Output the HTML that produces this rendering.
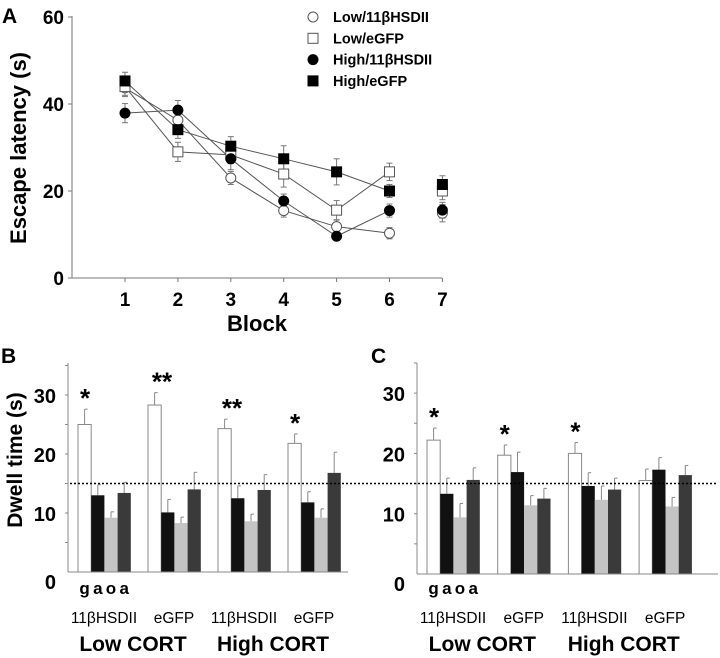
<!DOCTYPE html>
<html><head><meta charset="utf-8"><style>
html,body{margin:0;padding:0;background:#fff;}
svg{display:block;font-family:"Liberation Sans",Arial,sans-serif;}
</style></head><body>
<svg id="fig" width="720" height="658" viewBox="0 0 720 658" xmlns="http://www.w3.org/2000/svg"></svg>
<script>
// ---- Panel A data ----
const blocks = [1,2,3,4,5,6,7];
const seriesNames = ["Low/11βHSDII","Low/eGFP","High/11βHSDII","High/eGFP"];
const lowHsd = [43.7,36.3,23.0,15.5,11.8,10.3,14.9];
const lowHsdErr = [2,2,1.5,1.5,1.5,1.3,2];
const lowEgfp = [44.0,29.0,28.3,23.9,15.6,24.4,20.0];
const lowEgfpErr = [2,2.2,2,3,2.2,2,2];
const highHsd = [37.9,38.6,27.4,17.7,9.6,15.5,15.6];
const highHsdErr = [2.2,2.2,2.5,1.6,0.8,1.5,1.8];
const highEgfp = [45.3,34.1,30.3,27.4,24.4,20.0,21.5];
const highEgfpErr = [2,2,2.2,3,3,1.5,2];
const aTicks = [0,20,40,60];
// ---- Panel B / C data ----
const groupLabels = ["11βHSDII","eGFP","11βHSDII","eGFP"];
const bT = [25.0,28.3,24.3,21.8];
const bA = [13.0,10.1,12.5,11.8];
const bO = [9.2,8.3,8.6,9.2];
const bAd = [13.4,14.0,13.9,16.8];
const bTErr = [2.6,2.1,1.6,1.6];
const bAErr = [1.8,2.2,2.1,1.8];
const bOErr = [1.0,1.0,1.2,1.5];
const bAdErr = [1.8,2.9,2.6,3.5];
const bStars = ["*","**","**","*"];
const cT = [22.2,19.7,20.0,15.5];
const cA = [13.3,16.9,14.6,17.3];
const cO = [9.4,11.4,12.3,11.2];
const cAd = [15.6,12.5,14.0,16.4];
const cTErr = [2.0,1.7,1.8,1.9];
const cAErr = [2.6,3.3,2.2,2.0];
const cOErr = [2.3,1.6,2.3,1.5];
const cAdErr = [2.0,1.7,1.9,1.6];
const cStars = ["*","*","*",""];
const barTicks = [0,10,20,30];
const chance = 15;

const NS="http://www.w3.org/2000/svg";
const svg=document.getElementById('fig');
function el(tag,attrs,parent,text){const e=document.createElementNS(NS,tag);for(const k in attrs)e.setAttribute(k,attrs[k]);if(text!==undefined)e.textContent=text;(parent||svg).appendChild(e);return e;}

// ===== Panel A =====
const ax=v=>125+(v-1)*52.9;
const ay=v=>278-v*4.35;
const gA=el('g',{});


let t=el('text',{x:2,y:23,'font-size':21,'font-weight':'bold'},gA,'A');

el('line',{x1:72,y1:16,x2:72,y2:278,stroke:'#777','stroke-width':1},gA);
el('line',{x1:72,y1:278,x2:442,y2:278,stroke:'#777','stroke-width':1},gA);
aTicks.forEach(v=>{el('line',{x1:68,y1:ay(v),x2:72,y2:ay(v),stroke:'#777'},gA);
 t=el('text',{x:64,y:ay(v)+7,'font-size':19,'font-weight':'bold','text-anchor':'end'},gA,String(v));
 });
blocks.forEach(b=>{el('line',{x1:ax(b),y1:278,x2:ax(b),y2:282,stroke:'#777'},gA);
 t=el('text',{x:ax(b),y:306,'font-size':19,'font-weight':'bold','text-anchor':'middle'},gA,String(b));
 });
t=el('text',{x:257,y:331,'font-size':22,'font-weight':'bold','text-anchor':'middle'},gA,'Block');

t=el('text',{x:0,y:0,'font-size':22,'font-weight':'bold','text-anchor':'middle',transform:'translate(26,148) rotate(-90)'},gA,'Escape latency (s)');


const series=[[lowHsd,lowHsdErr,'circle','#fff'],[lowEgfp,lowEgfpErr,'square','#fff'],[highHsd,highHsdErr,'circle','#000'],[highEgfp,highEgfpErr,'square','#000']];
function marker(p,x,y,shape,fill,name){let m;
 if(shape==='circle')m=el('circle',{cx:x,cy:y,r:5,fill:fill,stroke:fill==='#fff'?'#555':'#000','stroke-width':1},p);
 else m=el('rect',{x:x-5,y:y-5,width:10,height:10,fill:fill,stroke:fill==='#fff'?'#555':'#000','stroke-width':1},p);
 }
series.forEach((s,si)=>{const [vals,errs]=s;
 let d='';for(let i=0;i<6;i++)d+=(i?'L':'M')+ax(blocks[i])+','+ay(vals[i]);
 const ln=el('path',{d:d,fill:'none',stroke:'#555','stroke-width':1},gA);
 
 vals.forEach((v,i)=>{const x=ax(blocks[i]);
  el('line',{x1:x,y1:ay(v-errs[i]),x2:x,y2:ay(v+errs[i]),stroke:'#777'},gA);
  el('line',{x1:x-3,y1:ay(v-errs[i]),x2:x+3,y2:ay(v-errs[i]),stroke:'#777'},gA);
  el('line',{x1:x-3,y1:ay(v+errs[i]),x2:x+3,y2:ay(v+errs[i]),stroke:'#777'},gA);});
});
series.forEach((s,si)=>{s[0].forEach((v,i)=>marker(gA,ax(blocks[i]),ay(v),s[2],s[3],'data-point'));});
// legend
seriesNames.forEach((n,i)=>{const y=17+i*21.3;const g=el('g',{},gA);
 
 marker(g,313,y,series[i][2],series[i][3],'legend-marker');
 el('text',{x:333,y:y+5,'font-size':14.5,'font-weight':'bold'},g,n);});

// ===== Bar panels =====
function barPanel(cfg){
 const g=el('g',{});
 
 
 const y=v=>cfg.y0-v*cfg.ppu;
 let t=el('text',{x:cfg.lx,y:363,'font-size':21,'font-weight':'bold'},g,cfg.letter);
 
 el('line',{x1:cfg.ax,y1:363,x2:cfg.ax,y2:cfg.y0,stroke:'#888'},g);
 for(let v=5;v<=35;v+=5)el('line',{x1:cfg.ax-3,y1:y(v),x2:cfg.ax,y2:y(v),stroke:'#888'},g);
 barTicks.forEach(v=>{t=el('text',{x:cfg.ax-12,y:v===0?y(v)+17:y(v)+8,'font-size':20,'font-weight':'bold','text-anchor':'end'},g,String(v));
  });
 const sets=[[cfg.T,cfg.TE,'#fff'],[cfg.A,cfg.AE,'#111'],[cfg.O,cfg.OE,'#c4c4c4'],[cfg.Ad,cfg.AdE,'#3a3a3a']];
 const bw=13.2;
 for(let gi=0;gi<4;gi++){const gx=cfg.gx0+gi*cfg.gsp;
  sets.forEach((s,k)=>{const v=s[0][gi],e=s[1][gi],x=gx+k*bw;
   el('line',{x1:x+bw/2,y1:y(v),x2:x+bw/2,y2:y(v+e),stroke:'#888'},g);
   el('line',{x1:x+bw/2,y1:y(v+e),x2:x+bw/2+3,y2:y(v+e),stroke:'#888'},g);
   const r=el('rect',{x:x,y:y(v),width:bw,height:cfg.y0-y(v),fill:s[2],stroke:k===0?'#888':s[2],'stroke-width':k===0?1:0},g);
   });
  if(cfg.stars[gi]){const top=cfg.T[gi]+cfg.TE[gi];
   t=el('text',{x:gx+7+(cfg.stars[gi].length-1)*7,y:y(top)-2,'font-size':26,'font-weight':'bold','text-anchor':'middle'},g,cfg.stars[gi]);
   }
  t=el('text',{x:gx+26,y:623,'font-size':15.5,'text-anchor':'middle'},g,groupLabels[gi]);
  
 }
 el('line',{x1:cfg.ax,y1:cfg.y0,x2:cfg.xend,y2:cfg.y0,stroke:'#888'},g);
 ['g','a','o','a'].forEach((c,k)=>{t=el('text',{x:cfg.gx0+k*bw+bw/2,y:594,'font-size':17,'font-weight':'bold','text-anchor':'middle'},g,c);
  });
 t=el('text',{x:cfg.gx0+cfg.gsp*0.5+20,y:651,'font-size':21,'font-weight':'bold','text-anchor':'middle'},g,'Low CORT');
 
 t=el('text',{x:cfg.gx0+cfg.gsp*2.5+20,y:651,'font-size':21,'font-weight':'bold','text-anchor':'middle'},g,'High CORT');
 
 return g;
}
barPanel({name:'dwell-chart-b',letter:'B',lx:1,ax:68,y0:572,ppu:5.9,gx0:78,gsp:70,xend:348,T:bT,TE:bTErr,A:bA,AE:bAErr,O:bO,OE:bOErr,Ad:bAd,AdE:bAdErr,stars:bStars});
barPanel({name:'dwell-chart-c',letter:'C',lx:371,ax:417,y0:574,ppu:6.03,gx0:427,gsp:70.7,xend:718,T:cT,TE:cTErr,A:cA,AE:cAErr,O:cO,OE:cOErr,Ad:cAd,AdE:cAdErr,stars:cStars});
let yt=el('text',{x:0,y:0,'font-size':21,'font-weight':'bold','text-anchor':'middle',transform:'translate(22,460) rotate(-90)'},svg,'Dwell time (s)');

const cl=el('line',{x1:70,y1:572-chance*5.9,x2:718,y2:572-chance*5.9,stroke:'#000','stroke-width':1.6,'stroke-dasharray':'2,2'});

</script>
</body></html>
